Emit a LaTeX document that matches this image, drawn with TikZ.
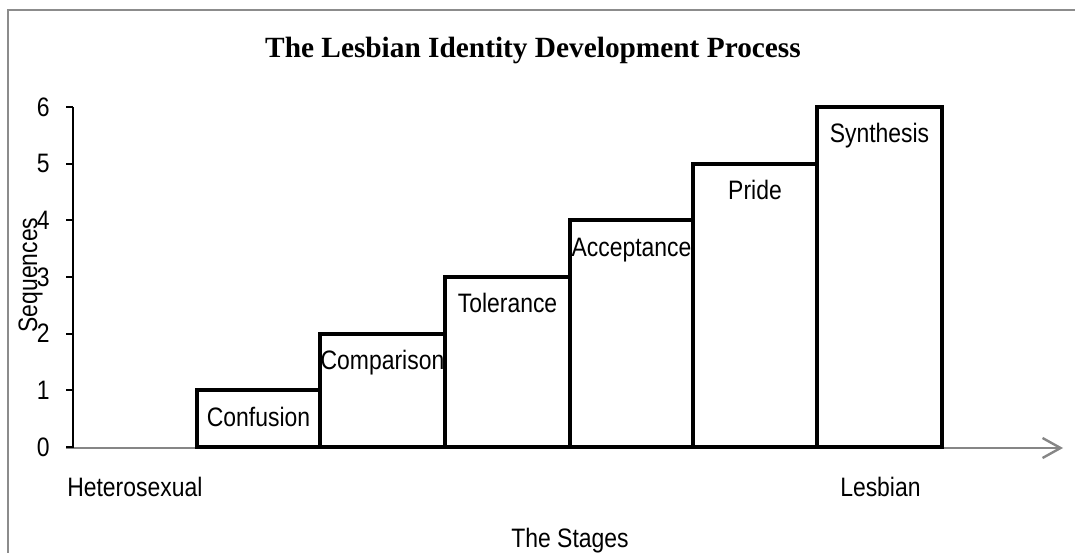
\documentclass[tikz,border=0pt]{standalone}
\usepackage{fontspec}
\setmainfont{Liberation Sans}[FakeStretch=0.86]
\newfontfamily\headfont{Liberation Serif}
\usetikzlibrary{arrows.meta,calc}
\definecolor{axisgray}{RGB}{134,134,134}
\definecolor{framegray}{RGB}{140,140,140}
\tikzset{
  frame/.style={draw=framegray, line width=1.5pt},
  stagebar/.style={draw=black, line width=3pt, fill=white},
  textfont/.style={font=\fontsize{20}{24}\selectfont},
  stagelabel/.style={textfont, anchor=base, inner sep=0pt},
  ticklabel/.style={textfont, anchor=east, inner sep=0pt},
  plainlabel/.style={textfont, inner sep=0pt},
  yaxis/.style={draw=black, line width=1.5pt},
  xaxis/.style={draw=axisgray, line width=1.8pt, -{Straight Barb[length=13.5pt, width=15pt, line width=1.8pt]}},
}
\begin{document}
\begin{tikzpicture}[x=0.75pt, y=-0.75pt]
  \useasboundingbox (0,0) rectangle (1075,553);
  % chart frame (top and left edges)
  \draw[frame] (8,553) -- (8,10) -- (1075,10);

  % title
  \node[anchor=base, inner sep=0pt, font=\headfont\bfseries\fontsize{22}{26}\selectfont] (title) at (533,57) {The Lesbian Identity Development Process};

  % axes
  \coordinate (xstart) at (66,448);
  \coordinate (xend) at (1063,448);
  \draw[xaxis] (xstart) -- (xend);
  \coordinate (ytop) at (73,107);
  \coordinate (ybot) at (73,448);
  \draw[yaxis] (ytop) -- (ybot);
  \foreach \k in {0,...,6} {
    \coordinate (t\k) at (73,{447-56.67*\k});
    \draw[yaxis] (t\k) -- ++(-7,0);
    \node[ticklabel] (n\k) at ($(t\k)+(-23,0)$) {\k};
  }

  % stage bars
  \foreach \i/\xl/\xr/\txt in {1/197/320/Confusion, 2/320/445/Comparison, 3/445/570/Tolerance, 4/570/693/Acceptance, 5/693/817/Pride, 6/817/942/Synthesis} {
    \draw[stagebar] (\xl,447) rectangle (\xr,{447-56.67*\i});
    \node[stagelabel] (s\i) at ({(\xl+\xr)/2},{447-56.67*\i+36}) {\txt};
  }

  % axis titles and end labels
  \node[plainlabel, anchor=base west] (het) at (67,496) {Heterosexual};
  \node[plainlabel, anchor=base west] (les) at (840,496) {Lesbian};
  \node[plainlabel, anchor=base] (stages) at (570,547) {The Stages};
  \node[plainlabel, rotate=90, anchor=base] (seq) at (37,275) {Sequences};
\end{tikzpicture}
\end{document}
